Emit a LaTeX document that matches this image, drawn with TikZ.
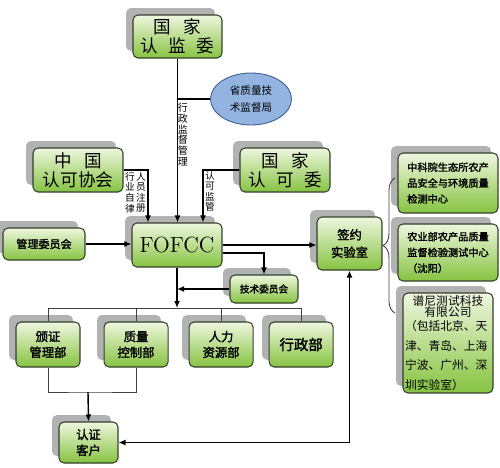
\documentclass[tikz,border=0pt]{standalone}
\usepackage{fontspec}
\newfontfamily\cjk{Noto Sans CJK SC}
\newfontfamily\cjkb[FakeBold=2]{Noto Sans CJK SC}
\usepackage{tikz}
\usetikzlibrary{shapes.geometric}
\usetikzlibrary{shadows}
\usetikzlibrary{positioning}
\usetikzlibrary{arrows.meta}
\usetikzlibrary{decorations.pathreplacing}
\definecolor{gtop}{HTML}{EEF7DF}
\definecolor{gbot}{HTML}{86C341}
\definecolor{gline}{HTML}{34402C}
\definecolor{efill}{HTML}{93B3E0}
\definecolor{eline}{HTML}{3D5C8E}

\begin{document}
\begin{tikzpicture}[x=0.02cm,y=-0.02cm,>={Latex[length=1.4mm,width=1.2mm]},
		line width=0.8pt,
		box/.style={draw=gline,line width=0.6pt,rounded corners=0.1cm,
			top color=gtop,bottom color=gbot,inner sep=1pt,align=center,
			drop shadow={shadow xshift=-0.14cm,shadow yshift=0.14cm,fill=black!30,opacity=1}},
		bigtxt/.style={font=\fontsize{10}{11}\cjk},
		boldtxt/.style={font=\fontsize{7}{9}\cjkb},
		smalltxt/.style={font=\fontsize{5.8}{9}\cjkb},
		vlabel/.style={font=\fontsize{5.7}{6.2}\cjk,align=center,inner sep=0pt},
		tline/.style={line width=0.5pt,black!75}]
		\useasboundingbox (0,0) rectangle (500,467);
		
		\node[box,bigtxt,minimum width=1.78cm,minimum height=0.86cm] (renjianwei) at (177.5,36.5)
			{国\hspace{0.7em}家\\认\hspace{0.6em}监\hspace{0.6em}委};
		\node[ellipse,draw=eline,line width=0.5pt,fill=efill,minimum width=1.62cm,minimum height=1.04cm,
			inner sep=0pt,align=center,font=\fontsize{6}{10}\cjk] (shengju) at (251,99) {省质量技\\术监督局};
		\node[box,bigtxt,minimum width=1.8cm,minimum height=0.88cm] (xiehui) at (78,170)
			{中\hspace{0.7em}国\\认可协会};
		\node[box,bigtxt,minimum width=1.8cm,minimum height=0.88cm] (renkewei) at (285,170)
			{国\hspace{0.7em}家\\认\hspace{0.6em}可\hspace{0.6em}委};
		\node[box,minimum width=1.8cm,minimum height=0.88cm,font=\fontsize{12.5}{14}\selectfont] (fofcc) at (177,245) {FOFCC};
		\node[box,font=\fontsize{6.3}{8}\cjkb,minimum width=1.64cm,minimum height=0.64cm] (guanwei) at (44,244) {管理委员会};
		\node[box,boldtxt,font=\fontsize{7}{10}\cjkb,minimum width=1.3cm,minimum height=1.06cm] (qianyue) at (349.5,243.5) {签约\\实验室};
		\node[box,smalltxt,align=left,minimum width=2cm,minimum height=1.2cm] (lab1) at (448,183)
			{中科院生态所农产\\品安全与环境质量\\检测中心};
		\node[box,smalltxt,align=left,minimum width=2cm,minimum height=1.14cm] (lab2) at (448,252.5)
			{农业部农产品质量\\监督检验测试中心\\（沈阳）};
		\node[box,font=\fontsize{6.7}{6.3}\cjk,text width=1.72cm,minimum height=2cm,inner sep=0.04cm] (lab3) at (448,343)
			{\centering 谱尼测试科技\\有限公司\par\vspace{-3.3pt}\raggedright
			\baselineskip=11.3pt （包括北京、天\\津、青岛、上海\\宁波、广州、深\\圳实验室）\par};
		\node[box,font=\fontsize{5.5}{7}\cjkb,minimum width=1.36cm,minimum height=0.56cm] (jishu) at (264,289) {技术委员会};
		
		\node[box,boldtxt,minimum width=1.28cm,minimum height=0.9cm] (banzheng) at (48,344.5) {颁证\\管理部};
		\node[box,boldtxt,minimum width=1.28cm,minimum height=0.9cm,right=0.46cm of banzheng] (zhiliang) {质量\\控制部};
		\node[box,boldtxt,minimum width=1.28cm,minimum height=0.9cm,right=0.4cm of zhiliang] (renli) {人力\\资源部};
		\node[box,font=\fontsize{8.2}{10}\cjkb,minimum width=1.28cm,minimum height=0.9cm,right=0.3cm of renli] (xingzheng) {行政部};
		\node[box,boldtxt,minimum width=1.18cm,minimum height=0.82cm] (kehu) at (88.5,442.5) {认证\\客户};
		
		% labels on the lines into FOFCC
		\node[vlabel] (lbxingzheng) at (183,134.5) {行\\政\\监\\督\\管\\理};
		\node[vlabel,font=\fontsize{5.5}{6}\cjk] (lbzilv) at (130,192.5) {行\\业\\自\\律};
		\node[vlabel,font=\fontsize{5.5}{6}\cjk] (lbzhuce) at (141,192.5) {人\\员\\注\\册};
		\node[vlabel,font=\fontsize{5.5}{6}\cjk] (lbjianguan) at (210,191.5) {认\\可\\监\\管};
		
		\coordinate (inA) at ([xshift=-0.58cm]fofcc.north);
		\coordinate (inB) at ([xshift=0.52cm]fofcc.north);
		\coordinate (bus) at (177,308);
		\coordinate (join) at (88,392);
		\coordinate (bt) at (395,178);
		\coordinate (bb) at (395,313);
		
		\draw[->] (renjianwei.south) -- (renjianwei.south |- fofcc.north);
		\draw (shengju.west) -- (shengju.west -| renjianwei.south);
		\draw[->] (xiehui.east) -| (inA);
		\draw[->] (renkewei.west) -| (inB);
		\draw[->] (guanwei.east) -- (guanwei.east -| fofcc.west);
		\draw[->] (fofcc.east) -- (fofcc.east -| qianyue.west);
		\draw[->] ([yshift=-0.16cm]fofcc.east) -| (jishu.north);
		\draw[->] (jishu.west) -- (jishu.west -| fofcc.south);
		\draw[->] (fofcc.south) -- (fofcc.south |- bus);
		
		\draw[tline] (banzheng.north |- bus) -- (xingzheng.north |- bus);
		\foreach \n in {banzheng,zhiliang,renli,xingzheng}
			\draw[tline] (\n.north) -- (\n.north |- bus);
		\draw[tline] (banzheng.south) |- (join) -| (zhiliang.south);
		\draw[->] (join) -- (kehu.north);
		\draw[<->] (qianyue.south) |- (kehu.east);
		
		\draw[tline,decorate,decoration={brace,amplitude=0.24cm}] (bb) -- (bt);
	\end{tikzpicture}
\end{document}
